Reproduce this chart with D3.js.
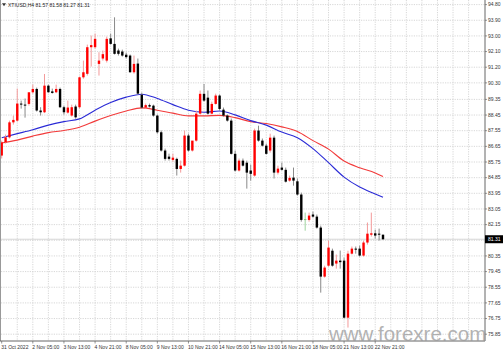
<!DOCTYPE html>
<html>
<head>
<meta charset="utf-8">
<script src="https://cdn.jsdelivr.net/npm/d3@7"></script>
<style>
  html, body { margin: 0; padding: 0; background: #fff; }
  svg { display: block; }
</style>
</head>
<body>
<div id="chart"></div>
<script>
// XTIUSD H4 chart, 31 Oct - 22 Nov 2022 (MT4 style: red = up bar, black = down bar)
const symbol = "XTIUSD,H4";

const opens = [86.12,86.88,87.17,88.03,88.13,89.11,89.05,89.09,89.76,89.95,88.71,88.61,90.14,89.81,89.76,89.95,88.90,88.59,88.42,88.94,
  88.90,90.62,90.82,92.35,92.35,91.39,91.70,91.58,92.86,92.54,92.16,92.10,91.92,91.87,90.91,91.41,89.62,88.88,89.02,88.99,
  88.42,87.46,86.41,86.06,85.87,85.93,85.35,85.54,87.27,86.41,86.98,88.53,89.67,89.45,88.53,89.09,89.57,88.76,88.42,88.13,
  86.22,85.26,85.83,85.71,85.26,84.97,87.56,86.98,86.69,86.41,87.15,85.14,85.43,85.30,84.68,84.85,84.64,83.88,82.44,82.42,
  82.73,82.61,81.98,79.16,79.79,80.65,79.91,80.08,80.08,76.80,80.48,80.77,80.77,80.37,81.12,81.57,81.65,81.63,81.57];
const highs = [86.98,87.33,88.13,88.42,89.97,89.28,89.40,89.28,90.20,90.03,88.90,90.81,90.20,89.97,90.20,90.03,88.99,89.28,89.05,89.05,
  90.66,91.58,92.50,93.02,93.13,92.06,92.16,92.96,93.13,94.07,92.27,92.21,92.04,91.93,91.87,91.70,89.74,89.11,89.11,89.05,
  88.48,87.56,86.52,86.23,86.23,86.00,85.83,87.56,87.38,86.69,88.71,89.86,90.24,89.86,89.22,89.68,89.63,88.88,88.48,88.25,
  86.41,85.95,85.95,85.83,85.60,87.67,87.84,87.10,86.81,87.38,87.27,85.54,85.72,85.43,84.97,85.43,84.80,83.99,82.84,82.84,
  82.90,82.73,82.09,79.79,81.23,80.77,80.43,80.66,80.25,80.65,80.89,80.89,80.94,81.23,82.27,82.84,81.86,81.92,81.58];
const lows = [85.95,86.81,87.10,87.90,88.07,88.82,88.30,88.99,89.68,88.65,88.42,88.56,89.74,89.68,89.71,88.85,88.47,88.53,88.36,88.24,
  88.82,90.54,90.72,91.24,92.27,90.72,91.58,91.47,92.50,91.93,91.87,91.81,91.70,90.89,90.83,89.62,88.82,88.82,88.88,88.36,
  87.38,86.35,85.83,85.83,85.77,84.97,85.14,85.49,86.35,86.35,86.92,88.48,89.22,88.48,88.48,89.05,88.71,88.36,88.07,86.18,
  85.20,85.20,85.49,84.22,84.68,84.91,86.92,86.64,86.18,86.29,84.80,85.03,85.26,84.57,84.62,84.39,83.82,82.32,81.80,82.32,
  82.55,81.92,78.24,79.10,79.73,79.73,79.62,79.62,76.75,76.23,80.43,80.48,80.31,80.31,81.00,81.46,81.35,81.23,81.27];
const closes = [86.88,87.17,88.03,88.17,89.11,89.05,89.02,89.76,89.95,88.71,88.61,90.14,89.76,89.72,89.95,88.90,88.61,88.88,88.90,88.32,
  90.62,90.91,92.35,92.47,92.83,91.58,91.95,92.83,92.54,91.97,91.97,91.87,91.78,90.91,91.39,89.68,88.88,89.02,88.94,88.42,
  87.46,86.41,85.93,85.93,86.00,85.35,85.54,87.27,86.41,86.98,88.53,89.67,89.28,88.53,89.09,89.57,88.80,88.42,88.13,86.22,
  85.26,85.83,85.54,85.14,85.07,87.56,86.98,86.69,86.22,87.15,85.14,85.37,85.30,84.62,84.84,84.68,83.88,82.42,82.44,82.67,
  82.61,81.98,79.16,79.68,80.83,79.79,80.08,79.99,76.80,80.48,80.77,80.71,80.37,81.12,81.63,81.65,81.52,81.57,81.31];

// moving averages at every 4th bar
const maBars = [0,4,8,12,16,20,24,28,32,36,40,44,48,52,56,60,64,68,72,76,80,84,88,92,96,98];
const maBlue = [87.15,87.38,87.61,87.87,88.07,88.23,88.73,89.17,89.48,89.65,89.40,89.05,88.73,88.61,88.68,88.46,88.13,87.87,87.47,87.15,86.52,85.71,84.88,84.31,83.91,83.72];
const maRed = [86.84,87.01,87.24,87.44,87.56,87.75,88.10,88.42,88.68,88.86,88.73,88.56,88.40,88.40,88.43,88.30,88.07,87.96,87.77,87.50,86.98,86.49,85.81,85.42,85.12,84.91];

const priceLabels = ["94.80","93.90","93.00","92.10","91.20","90.30","89.35","88.45","87.55","86.65","85.75","84.85",
  "83.95","83.05","82.15","81.25","80.35","79.45","78.55","77.65","76.75","75.85"];
const timeLabels = ["31 Oct 2022","2 Nov 05:00","3 Nov 13:00","4 Nov 21:00","8 Nov 05:00","9 Nov 13:00","10 Nov 21:00",
  "14 Nov 05:00","15 Nov 13:00","16 Nov 21:00","18 Nov 05:00","21 Nov 13:00","22 Nov 21:00"];

const W = 504, H = 352;
const plotRight = 485, plotBottom = 341;
const font = "'Liberation Sans', Arial, sans-serif";

const x = d3.scaleLinear().domain([0, 98]).range([1.7, 383]);
const y = d3.scaleLinear().domain([75.85, 94.80]).range([334.2, 4.6]);

const svg = d3.select("#chart").append("svg")
  .attr("width", W)
  .attr("height", H)
  .style("font-family", font);

svg.append("rect").attr("width", W).attr("height", H).attr("fill", "#fff");

// grid
const grid = svg.append("g").attr("stroke", "#cdcdcd").attr("stroke-width", 0.8).attr("stroke-dasharray", "1.2,1.2");
grid.selectAll("line.h")
  .data(priceLabels)
  .join("line")
    .attr("class", "h")
    .attr("x1", 1).attr("x2", plotRight)
    .attr("y1", d => y(+d)).attr("y2", d => y(+d));
grid.selectAll("line.v")
  .data(d3.range(4, 124, 4))
  .join("line")
    .attr("class", "v")
    .attr("x1", d => x(d)).attr("x2", d => x(d))
    .attr("y1", 0).attr("y2", plotBottom);

// bid line
const last = closes[closes.length - 1];
svg.append("line")
  .attr("x1", 1).attr("x2", plotRight)
  .attr("y1", y(last)).attr("y2", y(last))
  .attr("stroke", "#bbb").attr("stroke-width", 0.6);

// moving averages
const maLine = d3.line()
  .x((d, k) => x(maBars[k]))
  .y(d => y(d))
  .curve(d3.curveMonotoneX);

svg.append("path").attr("d", maLine(maRed))
  .attr("fill", "none").attr("stroke", "#f23a3a").attr("stroke-width", 1.1);
svg.append("path").attr("d", maLine(maBlue))
  .attr("fill", "none").attr("stroke", "#2b2bd6").attr("stroke-width", 1.1);

// candles
const bars = opens.map((o, i) => ({ i, o, h: highs[i], l: lows[i], c: closes[i] }));
const bodyW = 2.4;
const kind = d => d.o === d.c ? "doji" : (d.c > d.o ? "up" : "down");
const wickColor = { up: "#f39a9a", down: "#8a8a8a", doji: "#9fd49f" };
const bodyColor = { up: "#ff0000", down: "#000000" };

const candles = svg.append("g").selectAll("g")
  .data(bars)
  .join("g");

candles.append("line")
  .attr("x1", d => x(d.i)).attr("x2", d => x(d.i))
  .attr("y1", d => y(d.h)).attr("y2", d => y(d.l))
  .attr("stroke", d => wickColor[kind(d)])
  .attr("stroke-width", 1);

candles.filter(d => kind(d) !== "doji").append("rect")
  .attr("x", d => x(d.i) - bodyW / 2)
  .attr("y", d => y(Math.max(d.o, d.c)))
  .attr("width", bodyW)
  .attr("height", d => Math.max(1, Math.abs(y(d.o) - y(d.c))))
  .attr("fill", d => bodyColor[kind(d)]);

candles.filter(d => kind(d) === "doji").append("line")
  .attr("x1", d => x(d.i) - bodyW / 2).attr("x2", d => x(d.i) + bodyW / 2)
  .attr("y1", d => y(d.o)).attr("y2", d => y(d.o))
  .attr("stroke", "#7cc47c").attr("stroke-width", 1);

// frame
svg.append("line").attr("x1", 0.5).attr("x2", 0.5).attr("y1", 0).attr("y2", plotBottom)
  .attr("stroke", "#999").attr("stroke-width", 1);
svg.append("line").attr("x1", 0).attr("x2", plotRight).attr("y1", plotBottom).attr("y2", plotBottom)
  .attr("stroke", "#666").attr("stroke-width", 1);
svg.append("line").attr("x1", plotRight).attr("x2", plotRight).attr("y1", 0).attr("y2", plotBottom)
  .attr("stroke", "#666").attr("stroke-width", 1);

// price axis
const yAx = svg.append("g");
yAx.selectAll("line")
  .data(priceLabels)
  .join("line")
    .attr("x1", plotRight).attr("x2", plotRight + 2)
    .attr("y1", d => y(+d)).attr("y2", d => y(+d))
    .attr("stroke", "#666").attr("stroke-width", 0.7);
yAx.selectAll("text")
  .data(priceLabels)
  .join("text")
    .attr("x", 488)
    .attr("y", d => y(+d))
    .attr("dy", "0.35em")
    .attr("font-size", 5)
    .attr("fill", "#333")
    .text(d => d);

// time axis
const xAx = svg.append("g");
xAx.selectAll("line")
  .data(timeLabels)
  .join("line")
    .attr("x1", (d, k) => x(k * 8)).attr("x2", (d, k) => x(k * 8))
    .attr("y1", plotBottom).attr("y2", plotBottom + 2.5)
    .attr("stroke", "#666").attr("stroke-width", 0.7);
xAx.selectAll("text")
  .data(timeLabels)
  .join("text")
    .attr("x", (d, k) => x(k * 8) - 0.5)
    .attr("y", 349)
    .attr("font-size", 5)
    .attr("fill", "#333")
    .text(d => d);

// current price tag
svg.append("rect")
  .attr("x", plotRight).attr("y", y(last) - 4)
  .attr("width", 18).attr("height", 8)
  .attr("fill", "#000");
svg.append("text")
  .attr("x", 488).attr("y", y(last)).attr("dy", "0.35em")
  .attr("font-size", 5).attr("fill", "#fff")
  .text(d3.format(".2f")(last));

// header
svg.append("path").attr("d", "M2,3.2L6,3.2L4,6.2Z").attr("fill", "#333");
svg.append("text")
  .attr("x", 8).attr("y", 6.8)
  .attr("font-size", 5).attr("fill", "#222")
  .text(`${symbol}  ${d3.format(".2f")(opens[98])} ${d3.format(".2f")(highs[98])} ${d3.format(".2f")(lows[98])} ${d3.format(".2f")(last)}`);

// watermark
svg.append("text")
  .attr("x", 329).attr("y", 341)
  .attr("font-size", 20.5)
  .attr("fill", "#9a9a9a")
  .attr("opacity", 0.75)
  .text("www.forexre.com");
</script>
</body>
</html>
